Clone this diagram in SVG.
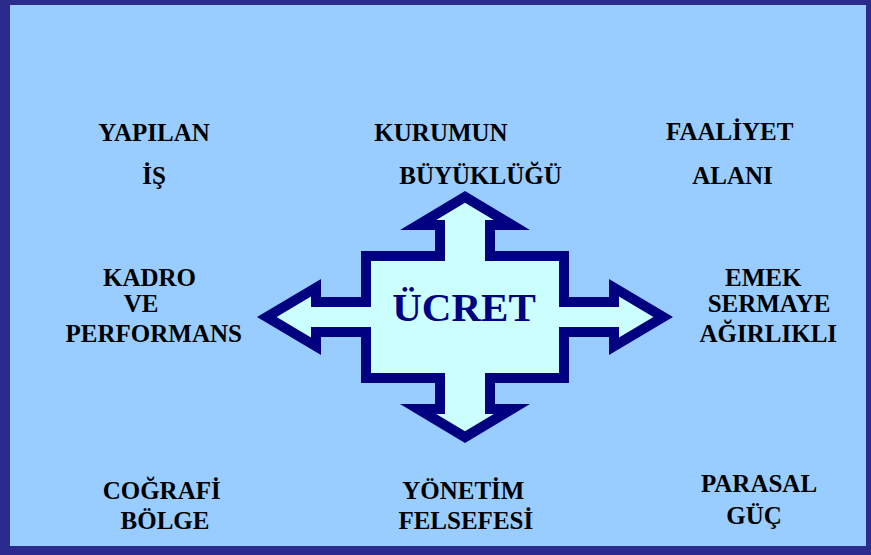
<svg xmlns="http://www.w3.org/2000/svg" width="871" height="555" viewBox="0 0 871 555">
  <style>
    .lbl { font-family: "Liberation Serif", "DejaVu Serif", "Times New Roman", serif; font-weight: bold; font-size: 25px; fill: #000000; text-anchor: middle; }
    .title { font-family: "Liberation Serif", "DejaVu Serif", "Times New Roman", serif; font-weight: bold; font-size: 41px; fill: #000080; text-anchor: middle; }
    .arrow-outer { fill: #000080; }
    .arrow-inner { fill: #CCFFFF; }
  </style>
  <rect x="0" y="0" width="871" height="555" fill="#2B2B8E"/>
  <rect x="10" y="5" width="856" height="541" fill="#99CCFF"/>

  <g id="ucret">
    <polygon class="arrow-outer" points="465,191 530,230 495,230 495,251 569,251 569,297 609,297 609,279 673,317 609,355 609,337 569,337 569,383 495,383 495,404 530,404 465,443 400,404 435,404 435,383 361,383 361,337 321,337 321,355 257,317 321,279 321,297 361,297 361,251 435,251 435,230 400,230"/>
    <polygon class="arrow-inner" points="465,202.7 493.8,220 485,220 485,261 559,261 559,307 619,307 619,296.6 653.4,317 619,337.4 619,327 559,327 559,373 485,373 485,414 493.8,414 465,431.3 436.2,414 445,414 445,373 371,373 371,327 311,327 311,337.4 276.6,317 311,296.6 311,307 371,307 371,261 445,261 445,220 436.2,220"/>
    <text class="title" x="464" y="321">ÜCRET</text>
  </g>

  <g id="yapilan-is">
    <text class="lbl" x="154" y="140.5">YAPILAN</text>
    <text class="lbl" x="154" y="184">İŞ</text>
  </g>
  <g id="kurumun-buyuklugu">
    <text class="lbl" x="441" y="140.5">KURUMUN</text>
    <text class="lbl" x="480.5" y="184">BÜYÜKLÜĞÜ</text>
  </g>
  <g id="faaliyet-alani">
    <text class="lbl" x="729.7" y="139.5">FAALİYET</text>
    <text class="lbl" x="732.5" y="183.5">ALANI</text>
  </g>
  <g id="kadro-ve-performans">
    <text class="lbl" x="149.5" y="285.7">KADRO</text>
    <text class="lbl" x="141" y="312.3">VE</text>
    <text class="lbl" x="153.8" y="342.3">PERFORMANS</text>
  </g>
  <g id="emek-sermaye">
    <text class="lbl" x="763.3" y="285.7">EMEK</text>
    <text class="lbl" x="769" y="312.3">SERMAYE</text>
    <text class="lbl" x="768.3" y="342.3">AĞIRLIKLI</text>
  </g>
  <g id="cografi-bolge">
    <text class="lbl" x="161.7" y="499.3">COĞRAFİ</text>
    <text class="lbl" x="165" y="529.3">BÖLGE</text>
  </g>
  <g id="yonetim-felsefesi">
    <text class="lbl" x="463.3" y="499.3">YÖNETİM</text>
    <text class="lbl" x="465.8" y="529.3">FELSEFESİ</text>
  </g>
  <g id="parasal-guc">
    <text class="lbl" x="759" y="492">PARASAL</text>
    <text class="lbl" x="754" y="523.5">GÜÇ</text>
  </g>
  <g id="connectors"></g>
</svg>
